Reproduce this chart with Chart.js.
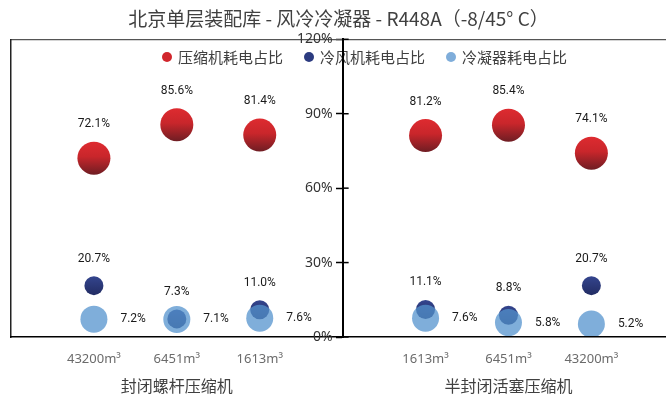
<!DOCTYPE html>
<html lang="zh-CN">
<head>
<meta charset="utf-8">
<title>北京单层装配库 - 风冷冷凝器 - R448A</title>
<script src="https://cdn.jsdelivr.net/npm/chart.js@4"></script>
<style>
  html, body { margin: 0; padding: 0; background: #fff; }
  #wrap { position: relative; width: 666px; height: 395px; }
</style>
</head>
<body>
<div id="wrap"><canvas id="chart"></canvas></div>
<script>
// 横轴：左边三种库容（螺杆机），中间放纵轴，右边三种库容（活塞机）
const slots = [1, 2, 3, 5, 6, 7];
const volumeLabels = ['43200m³', '6451m³', '1613m³', '1613m³', '6451m³', '43200m³'];
const groupSlots = [2, 6];
const groupLabels = ['封闭螺杆压缩机', '半封闭活塞压缩机'];
const axisSlot = 4;

// 各部分耗电占比 (%)
const compressorShare = [72.1, 85.6, 81.4, 81.2, 85.4, 74.1];
const fanShare = [20.7, 7.3, 11.0, 11.1, 8.8, 20.7];
const condenserShare = [7.2, 7.1, 7.6, 7.6, 5.8, 5.2];

const seriesNames = ['压缩机耗电占比', '冷风机耗电占比', '冷凝器耗电占比'];
const yTicks = [0, 30, 60, 90, 120];

const legendColors = ['#d1262c', '#2c3b80', '#7fadda'];
const CJK = "'Noto Sans CJK SC', 'Noto Sans', sans-serif";

function points(values) {
    return slots.map((x, i) => ({ x: x, y: values[i] }));
}

// 球形渐变：上亮下暗
function sphere(stops, r) {
    return function (ctx) {
        const chart = ctx.chart;
        if (ctx.type !== 'data' || !chart.chartArea) return stops[0][1];
        const y = chart.scales.y.getPixelForValue(ctx.raw.y);
        const g = chart.ctx.createLinearGradient(0, y - r, 0, y + r);
        stops.forEach(s => g.addColorStop(s[0], s[1]));
        return g;
    };
}

// 图例、纵轴刻度文字与右半边刻度线、数据标签
const decorations = {
    id: 'decorations',
    beforeDraw(chart) {
        const ctx = chart.ctx;
        ctx.save();
        ctx.font = '15px ' + CJK;
        ctx.textBaseline = 'middle';
        ctx.textAlign = 'left';
        let x = 162;
        const y = 57;
        seriesNames.forEach((name, i) => {
            ctx.fillStyle = legendColors[i];
            ctx.beginPath();
            ctx.arc(x + 5, y, 5, 0, Math.PI * 2);
            ctx.fill();
            ctx.fillStyle = '#404040';
            ctx.fillText(name, x + 16, y);
            x += 16 + ctx.measureText(name).width + 21;
        });
        ctx.restore();
    },
    afterDraw(chart) {
        const ctx = chart.ctx;
        const sx = chart.scales.x, sy = chart.scales.y;
        const ax = sx.getPixelForValue(axisSlot);
        ctx.save();
        ctx.strokeStyle = '#000';
        ctx.lineWidth = 1.5;
        ctx.font = "14px 'Noto Sans', sans-serif";
        ctx.fillStyle = '#333';
        ctx.textAlign = 'right';
        ctx.textBaseline = 'middle';
        sy.ticks.forEach(t => {
            const py = sy.getPixelForValue(t.value);
            ctx.beginPath();
            ctx.moveTo(ax, py);
            ctx.lineTo(ax + 6, py);
            ctx.stroke();
            ctx.fillText(t.value + '%', ax - 10, py);
        });

        ctx.font = "12px 'Liberation Sans Narrow', Roboto, sans-serif";
        ctx.fillStyle = '#1a1a1a';
        chart.data.datasets.forEach((ds, di) => {
            const meta = chart.getDatasetMeta(di);
            meta.data.forEach((pt, i) => {
                const text = ds.data[i].y.toFixed(1) + '%';
                const r = ds.pointRadius;
                if (ds.labelSide === 'right') {
                    ctx.textAlign = 'left';
                    ctx.fillText(text, pt.x + r + 13, pt.y);
                } else {
                    ctx.textAlign = 'center';
                    ctx.fillText(text, pt.x, pt.y - r - 17.5);
                }
            });
        });
        ctx.restore();
    }
};

const ctx = document.getElementById('chart').getContext('2d');
new Chart(ctx, {
    type: 'scatter',
    data: {
        datasets: [
            {
                label: seriesNames[0],
                data: points(compressorShare),
                xAxisID: 'x',
                yAxisID: 'y',
                pointRadius: 16.5,
                pointHoverRadius: 16.5,
                pointBorderWidth: 0,
                pointBackgroundColor: sphere([[0, '#de2b30'], [0.45, '#c9262b'], [1, '#6f1d23']], 16.5),
                labelSide: 'top',
                order: 2
            },
            {
                label: seriesNames[1],
                data: points(fanShare),
                xAxisID: 'x',
                yAxisID: 'y',
                pointRadius: 9.5,
                pointHoverRadius: 9.5,
                pointBorderWidth: 0,
                pointBackgroundColor: sphere([[0, '#34458e'], [1, '#222c63']], 9.5),
                labelSide: 'top',
                order: 1
            },
            {
                label: seriesNames[2],
                data: points(condenserShare),
                xAxisID: 'x',
                yAxisID: 'y',
                pointRadius: 13.5,
                pointHoverRadius: 13.5,
                pointBorderWidth: 0,
                pointBackgroundColor: 'rgba(84, 147, 206, 0.75)',
                labelSide: 'right',
                order: 0
            }
        ]
    },
    options: {
        responsive: true,
        maintainAspectRatio: false,
        animation: false,
        events: [],
        layout: { autoPadding: false, padding: { left: 11, right: 0, top: 0, bottom: 0 } },
        plugins: {
            legend: { display: false },
            tooltip: { enabled: false },
            title: {
                display: true,
                text: '北京单层装配库 - 风冷冷凝器 - R448A（-8/45° C）',
                color: '#404040',
                font: { family: CJK, size: 19, weight: 'normal' },
                padding: { top: 7, bottom: 9.5 }
            }
        },
        scales: {
            x: {
                type: 'linear',
                position: 'bottom',
                min: 0,
                max: 7.9,
                afterBuildTicks: axis => { axis.ticks = slots.map(v => ({ value: v })); },
                afterFit: axis => { axis.height = 29; },
                ticks: {
                    autoSkip: false,
                    maxRotation: 0,
                    padding: 14,
                    color: '#6b6b6b',
                    font: { family: "'Noto Sans', sans-serif", size: 13 },
                    callback: (value, index) => volumeLabels[index]
                },
                grid: { display: false, drawTicks: false },
                border: { display: true, color: '#000', width: 1.5, z: 1 }
            },
            xg: {
                type: 'linear',
                position: 'bottom',
                min: 0,
                max: 7.9,
                afterBuildTicks: axis => { axis.ticks = groupSlots.map(v => ({ value: v })); },
                afterFit: axis => { axis.height = 29; },
                ticks: {
                    autoSkip: false,
                    maxRotation: 0,
                    padding: 10,
                    color: '#404040',
                    font: { family: CJK, size: 16 },
                    callback: (value, index) => groupLabels[index]
                },
                grid: { display: false, drawTicks: false },
                border: { display: false }
            },
            xt: {
                type: 'linear',
                position: 'top',
                afterFit: axis => { axis.height = 0; },
                ticks: { display: false },
                grid: { display: false, drawTicks: false },
                border: { display: true, color: '#555', width: 1.2 }
            },
            yl: {
                type: 'linear',
                position: 'left',
                afterFit: axis => { axis.width = 0; },
                ticks: { display: false },
                grid: { display: false, drawTicks: false },
                border: { display: true, color: '#222', width: 1.5 }
            },
            y: {
                type: 'linear',
                position: { x: axisSlot },
                min: 0,
                max: 120,
                afterBuildTicks: axis => { axis.ticks = yTicks.map(v => ({ value: v })); },
                afterFit: axis => { axis.width = 0; },
                ticks: { display: false },
                grid: { drawOnChartArea: false, drawTicks: true, tickLength: 6, color: '#000', tickWidth: 1.5 },
                border: { display: true, color: '#000', width: 2, z: 1 }
            }
        }
    },
    plugins: [decorations]
});
</script>
</body>
</html>
